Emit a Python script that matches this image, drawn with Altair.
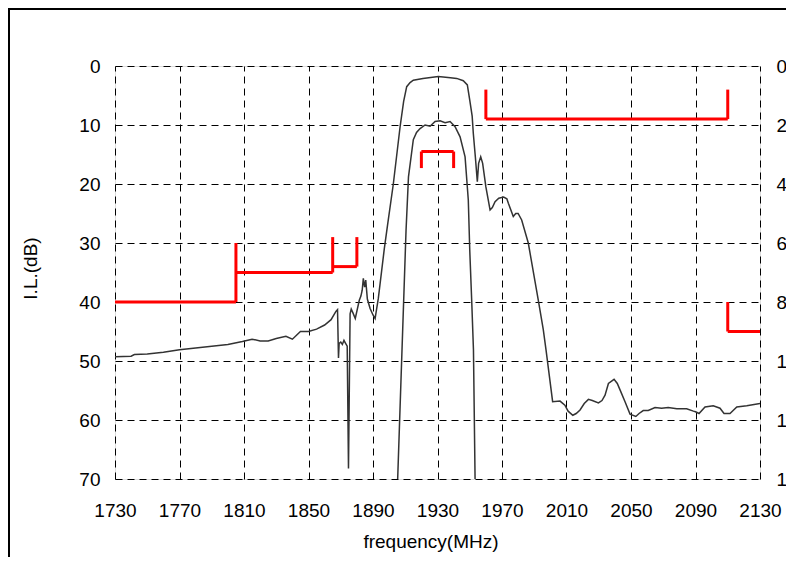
import altair as alt
import pandas as pd

# Wide-span insertion loss (left axis, dB 0-70)
outer_f = [1730, 1740, 1742, 1750, 1760, 1770, 1780, 1790, 1800, 1809, 1815, 1820, 1825, 1830,
           1836, 1840, 1845, 1850, 1855, 1860, 1864, 1867, 1868, 1868.6, 1869, 1870, 1871, 1872,
           1873, 1874, 1874.8, 1875.8, 1876.5, 1877.5, 1879, 1881.5, 1882.5, 1883.3, 1884,
           1884.8, 1885.5, 1886.5, 1888.2, 1890, 1891.3, 1893.3, 1897, 1899, 1902.6, 1906.8,
           1909, 1910.9, 1913, 1915, 1921, 1930.5, 1938, 1941.9, 1946, 1948.5, 1950, 1951.5,
           1952.2, 1953.5, 1954.7, 1955.5, 1956.8, 1958, 1960, 1962.6, 1964, 1965.7, 1968, 1971,
           1973, 1974, 1977, 1978.5, 1980, 1982.2, 1986.3, 1992.5, 1995.6, 1997.3, 2001.4, 2006,
           2009, 2011, 2013.9, 2016, 2018.4, 2021, 2023.6, 2026, 2029.8, 2032, 2033.9, 2036,
           2039.5, 2041.5, 2043.2, 2046.3, 2049.4, 2053, 2055, 2057.6, 2060.7, 2064.9, 2069,
           2073.1, 2078.4, 2084.5, 2088.7, 2090, 2092.2, 2095.9, 2101, 2105.2, 2107.7, 2111.4,
           2115.6, 2121.8, 2130]
outer_db = [49.3, 49.2, 48.9, 48.8, 48.5, 48.1, 47.8, 47.5, 47.2, 46.7, 46.3, 46.6, 46.6, 46.2,
            45.8, 46.3, 45.0, 45.0, 44.6, 43.9, 43.0, 41.6, 41.3, 49.5, 47.0, 46.8, 47.2, 46.5,
            47.0, 47.5, 68.2, 42.0, 41.2, 41.8, 42.8, 39.7, 39.0, 38.0, 36.0,
            37.5, 36.3, 39.5, 41.1, 42.2, 42.8, 39.4, 31.0, 27.0, 20.0, 10.3,
            6.0, 3.5, 2.8, 2.4, 2.1, 1.8, 2.0, 2.1, 2.5, 3.2, 5.8, 8.5,
            11.4, 15.5, 19.6, 16.5, 15.4, 16.5, 20.5, 24.4, 24.0, 23.0, 22.4, 22.2,
            22.5, 23.3, 25.5, 25.0, 25.0, 26.1, 30.0, 39.7, 44.7, 48.1, 56.9, 56.8,
            57.5, 58.5, 59.2, 58.9, 58.3, 57.2, 56.5, 56.7, 57.1, 56.7, 55.8, 53.8,
            53.1, 53.8, 54.9, 56.9, 59.0, 59.4, 58.9, 58.4, 58.4, 57.9, 58.0,
            57.9, 58.1, 58.1, 58.5, 58.6, 58.9, 57.8, 57.6, 58.0, 58.9, 58.9,
            57.8, 57.6, 57.2]

# Passband detail (right axis, dB 0-14)
inner_f = [1905.3, 1908, 1910.5, 1912, 1915, 1917, 1919.2, 1922.3, 1925.4, 1928.5, 1931.6,
           1934.7, 1937.8, 1940.9, 1944, 1947.1, 1949.1, 1950, 1951.2, 1952.3, 1953.3]
inner_db = [14.0, 9.6, 5.56, 3.76, 2.5, 2.25, 2.12, 2.0, 2.04, 1.88, 1.86,
            1.92, 1.88, 2.06, 2.4, 3.08, 4.54, 6.24, 7.94, 9.62, 14.0]

# Specification mask segments (left axis units)
spec_f1 = [1730, 1805, 1805, 1865, 1865, 1880, 1920, 1920, 1940, 1960, 1960, 2110, 2110, 2110]
spec_f2 = [1805, 1805, 1865, 1865, 1880, 1880, 1940, 1920, 1940, 1960, 2110, 2110, 2110, 2130]
spec_y1 = [40, 40, 35, 35, 34, 34, 14.5, 14.5, 14.5, 4, 9, 9, 40, 45]
spec_y2 = [40, 30, 35, 29, 34, 29, 14.5, 17.3, 17.3, 9, 9, 4, 45, 45]

x_ticks = list(range(1730, 2131, 40))
left_ticks = list(range(0, 71, 10))
right_ticks = list(range(0, 15, 2))

df_outer = pd.DataFrame({"f": outer_f, "db": outer_db})
df_inner = pd.DataFrame({"f": inner_f, "r": inner_db})
df_spec = pd.DataFrame({"f1": spec_f1, "f2": spec_f2, "y1": spec_y1, "y2": spec_y2})

FONT = "Liberation Sans"
xscale = alt.Scale(domain=[1730, 2130], nice=False, zero=False)
lscale = alt.Scale(domain=[0, 70], reverse=True, nice=False, zero=False)
rscale = alt.Scale(domain=[0, 14], reverse=True, nice=False, zero=False)

x_axis = alt.Axis(values=x_ticks, format="d", title="frequency(MHz)", grid=True,
                  gridDash=[7, 5], gridColor="#000000", gridOpacity=1, gridWidth=1,
                  ticks=False, tickSize=0, domain=False, labelFontSize=19, labelFont=FONT,
                  labelColor="#000000", labelPadding=22, labelBaseline="top",
                  titleFontSize=19, titleFont=FONT, titleFontWeight="normal",
                  titleColor="#000000", titleX=315.5, titleY=62, titleBaseline="middle",
                  titleAlign="center", labelFlush=False)
left_axis = alt.Axis(values=left_ticks, format="d", orient="left", title="I.L.(dB)",
                     grid=True, gridDash=[7, 5], gridColor="#000000", gridOpacity=1,
                     gridWidth=1, ticks=False, tickSize=0, domain=False, labelFontSize=19,
                     labelFont=FONT, labelColor="#000000", labelPadding=15, titleFontSize=19,
                     titleFont=FONT, titleFontWeight="normal", titleColor="#000000",
                     titleAngle=270, titleX=-85, titleY=202, titleBaseline="middle",
                     titleAlign="center", labelFlush=False)
right_axis = alt.Axis(values=right_ticks, format="d", orient="right", title=None, grid=False,
                      ticks=False, tickSize=0, domain=False, labelFontSize=19, labelFont=FONT,
                      labelColor="#000000", labelPadding=16, labelFlush=False)

outer = alt.Chart(df_outer).mark_line(color="#333333", strokeWidth=1.5, clip=True).encode(
    x=alt.X("f:Q", scale=xscale, axis=x_axis),
    y=alt.Y("db:Q", scale=lscale, axis=left_axis),
    order="f:Q",
)

spec = alt.Chart(df_spec).mark_rule(color="#ff0000", strokeWidth=3, clip=True).encode(
    x=alt.X("f1:Q", scale=xscale),
    x2="f2:Q",
    y=alt.Y("y1:Q", scale=lscale, axis=None),
    y2="y2:Q",
)

inner = alt.Chart(df_inner).mark_line(color="#333333", strokeWidth=1.5, clip=True).encode(
    x=alt.X("f:Q", scale=xscale),
    y=alt.Y("r:Q", scale=rscale, axis=right_axis),
    order="f:Q",
)

frame_df = pd.DataFrame({"k": [0]})
frame_top = alt.Chart(frame_df).mark_rule(color="#000000", strokeWidth=2).encode(
    x=alt.value(-106), x2=alt.value(700), y=alt.value(-57))
frame_left = alt.Chart(frame_df).mark_rule(color="#000000", strokeWidth=2).encode(
    x=alt.value(-106), y=alt.value(-58), y2=alt.value(500))

chart = alt.layer(outer, spec, inner, frame_top, frame_left).resolve_scale(
    y="independent"
).properties(
    width=645,
    height=413,
    title=alt.TitleParams("Insertion Loss", fontSize=19, font=FONT, fontWeight="normal",
                          color="#000000", anchor="middle", dx=-29.5, offset=39,
                          baseline="alphabetic"),
    autosize=alt.AutoSizeParams(type="none"),
    padding={"left": 107, "top": 58, "right": 26, "bottom": 78},
).configure_view(
    stroke="#000000", strokeWidth=2
).configure(background="#ffffff")

chart.save("out.html", embed_options={"renderer": "svg", "actions": False})
